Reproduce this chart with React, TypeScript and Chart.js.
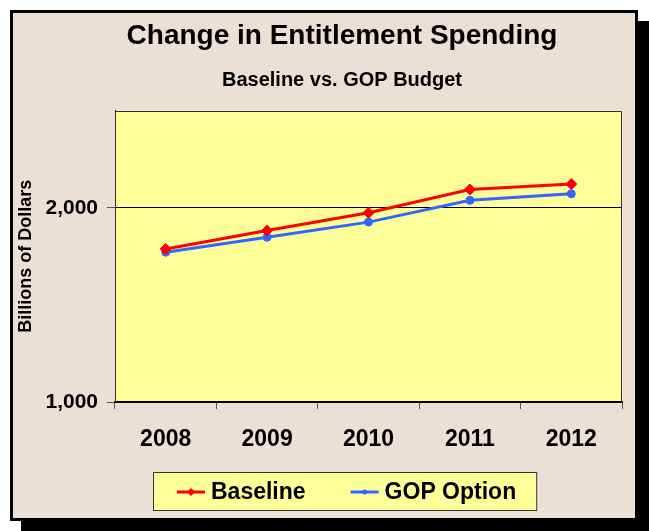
import React, { useEffect, useRef } from "react";
import { Chart, registerables } from "chart.js";

Chart.register(...registerables);

const years = ["2008", "2009", "2010", "2011", "2012"];
const baseline = [1788, 1883, 1974, 2094, 2122];
const gopOption = [1771, 1848, 1926, 2038, 2072];
const yTickValues = [1000, 2000];
const seriesNames = ["Baseline", "GOP Option"];
const titleText = "Change in Entitlement Spending";
const subtitleText = "Baseline vs. GOP Budget";
const yAxisLabel = "Billions of Dollars";

const FONT = "'Liberation Sans', Arial, sans-serif";
const PLOT_BG = "#FFFF99";

const plotBgPlugin = {
  id: "plotBg",
  beforeDraw(chart: any) {
    const { ctx, chartArea: a } = chart;
    ctx.save();
    ctx.fillStyle = PLOT_BG;
    ctx.fillRect(a.left, a.top, a.right - a.left, a.bottom - a.top);
    ctx.restore();
  },
  beforeDatasetsDraw(chart: any) {
    const { ctx, chartArea: a } = chart;
    ctx.save();
    ctx.strokeStyle = "#333";
    ctx.lineWidth = 1;
    ctx.beginPath();
    ctx.moveTo(Math.round(a.left) + 0.5, Math.round(a.bottom));
    ctx.lineTo(Math.round(a.left) + 0.5, Math.round(a.top) + 0.5);
    ctx.lineTo(Math.round(a.right) - 0.5, Math.round(a.top) + 0.5);
    ctx.lineTo(Math.round(a.right) - 0.5, Math.round(a.bottom));
    ctx.stroke();
    ctx.restore();
  },
};

function drawSwatch(ctx: CanvasRenderingContext2D, ds: any, x: number, y: number, w: number) {
  ctx.save();
  ctx.strokeStyle = ds.borderColor;
  ctx.lineWidth = 3;
  ctx.beginPath();
  ctx.moveTo(x, y);
  ctx.lineTo(x + w, y);
  ctx.stroke();
  ctx.fillStyle = ds.pointBackgroundColor;
  const cx = x + w / 2;
  ctx.beginPath();
  if (ds.pointStyle === "rectRot") {
    const r = 4;
    ctx.moveTo(cx, y - r);
    ctx.lineTo(cx + r, y);
    ctx.lineTo(cx, y + r);
    ctx.lineTo(cx - r, y);
    ctx.closePath();
  } else {
    ctx.arc(cx, y, 2.5, 0, Math.PI * 2);
  }
  ctx.fill();
  ctx.restore();
}

const customLegendPlugin = {
  id: "customLegend",
  afterDraw(chart: any) {
    const { ctx } = chart;
    const datasets = chart.data.datasets;
    ctx.save();
    ctx.font = `bold 23px ${FONT}`;
    ctx.textBaseline = "middle";
    ctx.textAlign = "left";
    const swatchW = 28;
    const swatchGap = 6;
    const itemGap = 45;
    const padL = 24;
    const padR = 21;
    const widths = datasets.map((d: any) => ctx.measureText(d.label).width);
    let inner = 0;
    widths.forEach((w: number, i: number) => {
      inner += swatchW + swatchGap + w + (i > 0 ? itemGap : 0);
    });
    const boxW = inner + padL + padR;
    const boxH = 39;
    const cx = 332.5;
    const boxX = Math.round(cx - boxW / 2);
    const boxY = 459;
    ctx.fillStyle = PLOT_BG;
    ctx.fillRect(boxX, boxY, boxW, boxH);
    ctx.strokeStyle = "#333";
    ctx.lineWidth = 1;
    ctx.strokeRect(boxX + 0.5, boxY + 0.5, boxW - 1, boxH - 1);
    const midY = boxY + 20;
    let x = boxX + padL;
    datasets.forEach((d: any, i: number) => {
      drawSwatch(ctx, d, x, midY, swatchW);
      x += swatchW + swatchGap;
      ctx.fillStyle = "#000";
      ctx.fillText(d.label, x, midY + 1);
      x += widths[i] + itemGap;
    });
    ctx.restore();
  },
};

export default function App() {
  const canvasRef = useRef<HTMLCanvasElement | null>(null);

  useEffect(() => {
    if (!canvasRef.current) return;
    const chart = new Chart(canvasRef.current, {
      type: "line",
      data: {
        labels: years,
        datasets: [
          {
            label: seriesNames[0],
            data: baseline,
            borderColor: "#FF0000",
            backgroundColor: "#FF0000",
            pointBackgroundColor: "#FF0000",
            pointBorderColor: "#FF0000",
            borderWidth: 3,
            pointStyle: "rectRot",
            pointRadius: 5.5,
            pointBorderWidth: 1,
            tension: 0,
          },
          {
            label: seriesNames[1],
            data: gopOption,
            borderColor: "#3366FF",
            backgroundColor: "#3366FF",
            pointBackgroundColor: "#3366FF",
            pointBorderColor: "#3366FF",
            borderWidth: 3,
            pointStyle: "circle",
            pointRadius: 4,
            pointBorderWidth: 1,
            tension: 0,
          },
        ],
      },
      options: {
        responsive: false,
        animation: false,
        devicePixelRatio: 1,
        layout: { padding: 0 },
        plugins: {
          legend: { display: false },
          tooltip: { enabled: false },
          title: {
            display: true,
            text: titleText,
            color: "#000",
            font: { family: FONT, size: 28, weight: "bold" },
            padding: { top: 6, bottom: 8 },
          },
          subtitle: {
            display: true,
            text: subtitleText,
            color: "#000",
            font: { family: FONT, size: 20, weight: "bold" },
            padding: { top: 8, bottom: 18 },
          },
        },
        scales: {
          x: {
            type: "category",
            offset: true,
            grid: {
              offset: true,
              drawOnChartArea: false,
              drawTicks: true,
              tickLength: 7,
              tickColor: "#555",
            },
            border: { display: true, color: "#000", width: 2 },
            ticks: {
              color: "#000",
              font: { family: FONT, size: 23, weight: "bold" },
              padding: 17,
              maxRotation: 0,
            },
            afterFit(scale: any) {
              scale.height = 116;
              scale.paddingRight = 49;
            },
          },
          y: {
            type: "linear",
            min: 1000,
            max: 2500,
            afterBuildTicks(scale: any) {
              scale.ticks = yTickValues.map((v) => ({ value: v }));
            },
            grid: {
              color: "#000",
              lineWidth: 1,
              drawTicks: true,
              tickLength: 8,
              tickColor: "#555",
            },
            border: { display: true, color: "#000", width: 1 },
            ticks: {
              color: "#000",
              font: { family: FONT, size: 21, weight: "bold" },
              padding: 9,
              callback: (v: any) => Number(v).toLocaleString("en-US"),
            },
            title: {
              display: true,
              text: yAxisLabel,
              color: "#000",
              font: { family: FONT, size: 18, weight: "bold" },
              padding: { top: 2, bottom: 0 },
            },
            afterFit(scale: any) {
              scale.width = 102;
            },
          },
        },
      },
      plugins: [plotBgPlugin, customLegendPlugin],
    } as any);
    return () => chart.destroy();
  }, []);

  return (
    <div
      style={{
        position: "fixed",
        left: 0,
        top: 0,
        width: 649,
        height: 531,
        overflow: "hidden",
        background: "#FFFFFF",
      }}
    >
      <div
        style={{
          position: "absolute",
          left: 10,
          top: 10,
          width: 628,
          height: 511,
          boxSizing: "border-box",
          border: "3px solid #000",
          background: "#EAE0D5",
          boxShadow: "11px 11px 0 #000",
        }}
      />
      <canvas
        ref={canvasRef}
        width={658}
        height={505}
        style={{ position: "absolute", left: 13, top: 13, width: 658, height: 505 }}
      />
    </div>
  );
}
